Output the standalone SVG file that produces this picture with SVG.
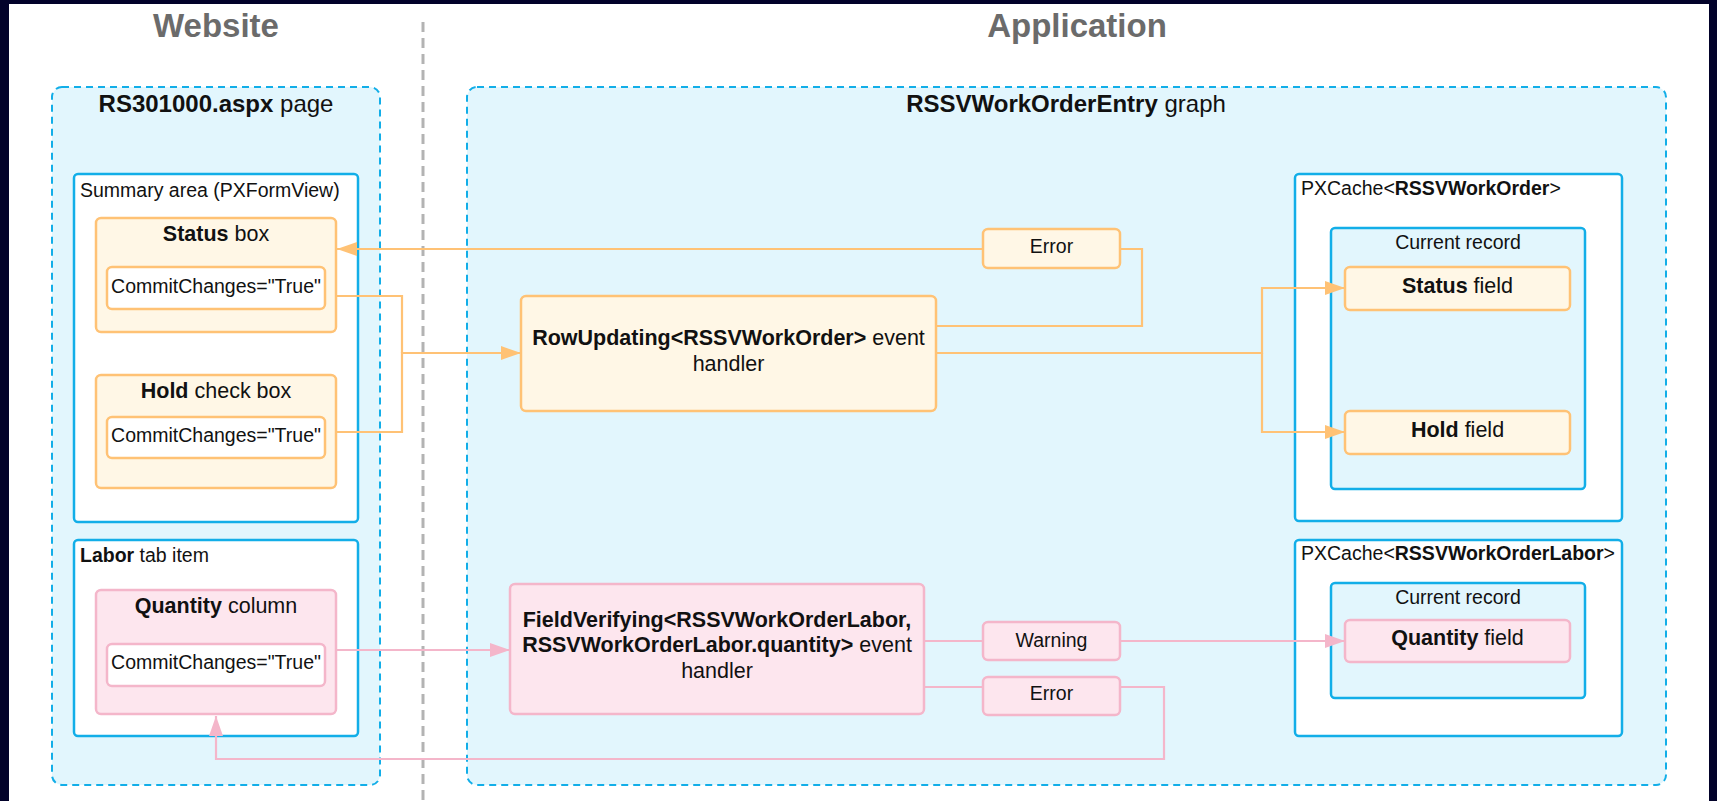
<svg xmlns="http://www.w3.org/2000/svg" width="1717" height="801" viewBox="0 0 1717 801">
  <style>
    text { font-family: "Liberation Sans", Arial, sans-serif; fill: #111; }
    .b { font-weight: bold; }
    .section { font-size: 33px; font-weight: bold; fill: #6b6b6b; }
    .ttl { font-size: 24px; }
    .med { font-size: 21.5px; }
    .sm { font-size: 19.5px; }
    .zone { fill: #e2f6fd; stroke: #12aee8; stroke-width: 2; stroke-dasharray: 7 5; }
    .panel { fill: #ffffff; stroke: #12aee8; stroke-width: 2.5; }
    .record { fill: #e2f6fd; stroke: #12aee8; stroke-width: 2.5; }
    .ora { fill: #fff7e6; stroke: #ffc275; stroke-width: 2.5; }
    .oraw { fill: #ffffff; stroke: #ffc275; stroke-width: 2.5; }
    .pnk { fill: #fde6ee; stroke: #f4b6ca; stroke-width: 2.5; }
    .pnkw { fill: #ffffff; stroke: #f4b6ca; stroke-width: 2.5; }
    .lo { fill: none; stroke: #ffc275; stroke-width: 2.2; }
    .lp { fill: none; stroke: #f4b6ca; stroke-width: 2.2; }
  </style>
  <defs>
    <marker id="arrO" markerUnits="userSpaceOnUse" markerWidth="20" markerHeight="14" refX="20" refY="7" orient="auto">
      <path d="M0,0 L20,7 L0,14 Z" fill="#ffc275"/>
    </marker>
    <marker id="arrP" markerUnits="userSpaceOnUse" markerWidth="20" markerHeight="14" refX="20" refY="7" orient="auto">
      <path d="M0,0 L20,7 L0,14 Z" fill="#f4b6ca"/>
    </marker>
  </defs>

  <!-- frame -->
  <rect x="0" y="0" width="1717" height="801" fill="#02022a"/>
  <rect x="9" y="4" width="1700" height="797" fill="#ffffff"/>

  <!-- column headings and divider -->
  <text class="section" x="216" y="37" text-anchor="middle">Website</text>
  <text class="section" x="1077" y="37" text-anchor="middle">Application</text>
  <line x1="423" y1="22" x2="423" y2="801" stroke="#b3b3b3" stroke-width="3" stroke-dasharray="10 6"/>

  <!-- containers -->
  <g id="page">
    <rect class="zone" x="52" y="87" width="328" height="698" rx="10"/>
    <text class="ttl" x="216" y="112" text-anchor="middle"><tspan class="b">RS301000.aspx</tspan> page</text>
  </g>
  <g id="graph">
    <rect class="zone" x="467" y="87" width="1199" height="698" rx="10"/>
    <text class="ttl" x="1066" y="112" text-anchor="middle"><tspan class="b">RSSVWorkOrderEntry</tspan> graph</text>
  </g>
  <g id="summary-area">
    <rect class="panel" x="74" y="174" width="284" height="348" rx="4"/>
    <text class="sm" x="80" y="197">Summary area (PXFormView)</text>
  </g>
  <g id="labor-tab">
    <rect class="panel" x="74" y="540" width="284" height="196" rx="4"/>
    <text class="sm" x="80" y="562"><tspan class="b">Labor</tspan> tab item</text>
  </g>
  <g id="cache-workorder">
    <rect class="panel" x="1295" y="174" width="327" height="347" rx="4"/>
    <text class="sm" x="1301" y="195">PXCache&lt;<tspan class="b">RSSVWorkOrder</tspan>&gt;</text>
  </g>
  <g id="record-workorder">
    <rect class="record" x="1331" y="228" width="254" height="261" rx="4"/>
    <text class="sm" x="1458" y="249" text-anchor="middle">Current record</text>
  </g>
  <g id="cache-labor">
    <rect class="panel" x="1295" y="540" width="327" height="196" rx="4"/>
    <text class="sm" x="1301" y="560">PXCache&lt;<tspan class="b">RSSVWorkOrderLabor</tspan>&gt;</text>
  </g>
  <g id="record-labor">
    <rect class="record" x="1331" y="583" width="254" height="115" rx="4"/>
    <text class="sm" x="1458" y="604" text-anchor="middle">Current record</text>
  </g>

  <!-- connectors -->
  <g id="connectors">
    <path class="lo" d="M337,296 H402 V353"/>
    <path class="lo" d="M337,432 H402 V353 H521" marker-end="url(#arrO)"/>
    <path class="lo" d="M936,326 H1142 V249 H1120"/>
    <path class="lo" d="M983,249 H337" marker-end="url(#arrO)"/>
    <path class="lo" d="M936,353 H1262 V288 H1345" marker-end="url(#arrO)"/>
    <path class="lo" d="M1262,353 V432 H1345" marker-end="url(#arrO)"/>
    <path class="lp" d="M337,650 H510" marker-end="url(#arrP)"/>
    <path class="lp" d="M924,641 H983"/>
    <path class="lp" d="M1120,641 H1345" marker-end="url(#arrP)"/>
    <path class="lp" d="M924,687 H983"/>
    <path class="lp" d="M1120,687 H1164 V759 H216 V716" marker-end="url(#arrP)"/>
  </g>

  <!-- website controls -->
  <g id="status-box">
    <rect class="ora" x="96" y="218" width="240" height="114" rx="5"/>
    <text class="med" x="216" y="241" text-anchor="middle"><tspan class="b">Status</tspan> box</text>
    <rect class="oraw" x="107" y="267" width="218" height="42" rx="5"/>
    <text class="sm" x="216" y="293" text-anchor="middle">CommitChanges="True"</text>
  </g>
  <g id="hold-box">
    <rect class="ora" x="96" y="375" width="240" height="113" rx="5"/>
    <text class="med" x="216" y="398" text-anchor="middle"><tspan class="b">Hold</tspan> check box</text>
    <rect class="oraw" x="107" y="417" width="218" height="41" rx="5"/>
    <text class="sm" x="216" y="442" text-anchor="middle">CommitChanges="True"</text>
  </g>
  <g id="quantity-column">
    <rect class="pnk" x="96" y="590" width="240" height="124" rx="5"/>
    <text class="med" x="216" y="613" text-anchor="middle"><tspan class="b">Quantity</tspan> column</text>
    <rect class="pnkw" x="107" y="644" width="218" height="42" rx="5"/>
    <text class="sm" x="216" y="669" text-anchor="middle">CommitChanges="True"</text>
  </g>

  <!-- event handlers -->
  <g id="row-updating">
    <rect class="ora" x="521" y="296" width="415" height="115" rx="5"/>
    <text class="med" x="728.5" y="345" text-anchor="middle"><tspan class="b">RowUpdating&lt;RSSVWorkOrder&gt;</tspan> event</text>
    <text class="med" x="728.5" y="371" text-anchor="middle">handler</text>
  </g>
  <g id="field-verifying">
    <rect class="pnk" x="510" y="584" width="414" height="130" rx="5"/>
    <text class="med" x="717" y="627" text-anchor="middle"><tspan class="b">FieldVerifying&lt;RSSVWorkOrderLabor,</tspan></text>
    <text class="med" x="717" y="652" text-anchor="middle"><tspan class="b">RSSVWorkOrderLabor.quantity&gt;</tspan> event</text>
    <text class="med" x="717" y="678" text-anchor="middle">handler</text>
  </g>

  <!-- messages -->
  <g id="error-status">
    <rect class="ora" x="983" y="229" width="137" height="39" rx="5"/>
    <text class="sm" x="1051.5" y="253" text-anchor="middle">Error</text>
  </g>
  <g id="warning-quantity">
    <rect class="pnk" x="983" y="622" width="137" height="38" rx="5"/>
    <text class="sm" x="1051.5" y="647" text-anchor="middle">Warning</text>
  </g>
  <g id="error-quantity">
    <rect class="pnk" x="983" y="677" width="137" height="38" rx="5"/>
    <text class="sm" x="1051.5" y="700" text-anchor="middle">Error</text>
  </g>

  <!-- cache fields -->
  <g id="status-field">
    <rect class="ora" x="1345" y="267" width="225" height="43" rx="5"/>
    <text class="med" x="1457.5" y="293" text-anchor="middle"><tspan class="b">Status</tspan> field</text>
  </g>
  <g id="hold-field">
    <rect class="ora" x="1345" y="411" width="225" height="43" rx="5"/>
    <text class="med" x="1457.5" y="437" text-anchor="middle"><tspan class="b">Hold</tspan> field</text>
  </g>
  <g id="quantity-field">
    <rect class="pnk" x="1345" y="620" width="225" height="42" rx="5"/>
    <text class="med" x="1457.5" y="645" text-anchor="middle"><tspan class="b">Quantity</tspan> field</text>
  </g>
</svg>
